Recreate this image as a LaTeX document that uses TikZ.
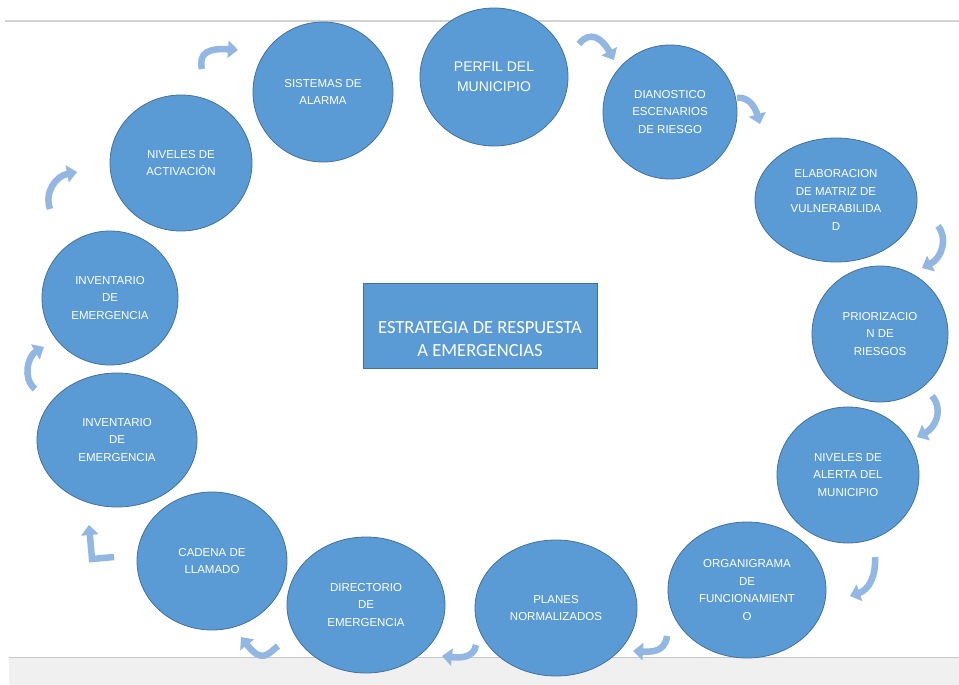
\documentclass[tikz,border=0pt]{standalone}
\usepackage{fontspec}
\setmainfont{Liberation Sans}
\newfontfamily\calib{Carlito}
\usetikzlibrary{shapes.geometric,arrows.meta}
\definecolor{cfill}{HTML}{5B9BD5}
\definecolor{cline}{HTML}{41719C}
\definecolor{arrowc}{HTML}{92B7E2}
\definecolor{barfill}{HTML}{F0F0F0}
\definecolor{barline}{HTML}{C8C8C8}
\tikzset{
  bubble/.style={ellipse, fill=cfill, draw=cline, line width=0.8pt, inner sep=0pt,
     text=white, align=center, font=\fontsize{11.5}{17.5}\selectfont},
  flow/.style={draw=arrowc, line width=6.5pt,
     -{Triangle[width=17pt,length=10pt]}},
  centrebox/.style={rectangle, fill=cfill, draw=cline, line width=0.6pt, inner sep=0pt},
  centretext/.style={text=white, align=center, font=\calib\fontsize{18.5}{23}\selectfont}
}
\begin{document}
\begin{tikzpicture}[x=1pt,y=-1pt]
\useasboundingbox (0,0) rectangle (959,685);
\fill[white] (0,0) rectangle (959,685);
% frame lines
\draw[barline!80, line width=1.6pt] (5,21) -- (959,21);
\fill[barfill] (9,657) rectangle (959,685);
\draw[barline, line width=1pt] (9,657) -- (959,657);

% arrow end points
\coordinate (a1s) at (202,69);  \coordinate (a1e) at (238,50);
\coordinate (a2s) at (579,44);  \coordinate (a2e) at (614,60);
\coordinate (a3s) at (737,98);  \coordinate (a3e) at (760,124);
\coordinate (a4s) at (938,226); \coordinate (a4e) at (922,268);
\coordinate (a5s) at (932,396); \coordinate (a5e) at (917,437);
\coordinate (a6s) at (875,557); \coordinate (a6e) at (850,596);
\coordinate (a7s) at (667,636); \coordinate (a7e) at (633,651);
\coordinate (a8s) at (476,645); \coordinate (a8e) at (442,656);
\coordinate (a9s) at (278,646); \coordinate (a9e) at (241,637);
\coordinate (a10s) at (114,557); \coordinate (a10e) at (89,525);
\coordinate (a11s) at (35,389); \coordinate (a11e) at (44,347);
\coordinate (a12s) at (50,209); \coordinate (a12e) at (77,172);

\draw[flow] (a1s) .. controls (198,52) and (210,48) .. (a1e);
\draw[flow] (a2s) .. controls (590,30) and (602,38) .. (a2e);
\draw[flow] (a3s) .. controls (750,96) and (756,110) .. (a3e);
\draw[flow] (a4s) .. controls (948,238) and (942,258) .. (a4e);
\draw[flow] (a5s) .. controls (944,410) and (935,428) .. (a5e);
\draw[flow] (a6s) .. controls (876,578) and (868,590) .. (a6e);
\draw[flow] (a7s) .. controls (665,652) and (652,652) .. (a7e);
\draw[flow] (a8s) .. controls (474,658) and (460,658) .. (a8e);
\draw[flow] (a9s) .. controls (268,654) and (262,664) .. (a9e);
\draw[flow] (a10s) -- (92,559) -- (a10e);
\draw[flow] (a11s) .. controls (22,378) and (28,356) .. (a11e);
\draw[flow] (a12s) .. controls (44,192) and (56,176) .. (a12e);

% circles
\node[bubble, minimum width=148pt, minimum height=138pt,
      font=\fontsize{14}{20}\selectfont] (perfil) at (494,77) {PERFIL DEL\\MUNICIPIO};
\node[bubble, minimum width=140pt, minimum height=140pt] (alarma) at (323,92) {SISTEMAS DE\\ALARMA};
\node[bubble, minimum width=134pt, minimum height=134pt] (dian) at (670,112) {DIANOSTICO\\ESCENARIOS\\DE RIESGO};
\node[bubble, minimum width=162pt, minimum height=124pt] (elab) at (836,200) {ELABORACION\\DE MATRIZ DE\\VULNERABILIDA\\D};
\node[bubble, minimum width=136pt, minimum height=136pt] (prior) at (880,334) {PRIORIZACIO\\N DE\\RIESGOS};
\node[bubble, minimum width=142pt, minimum height=136pt] (alerta) at (848,475) {NIVELES DE\\ALERTA DEL\\MUNICIPIO};
\node[bubble, minimum width=158pt, minimum height=136pt] (org) at (747,590) {ORGANIGRAMA\\DE\\FUNCIONAMIENT\\O};
\node[bubble, minimum width=162pt, minimum height=136pt] (planes) at (556,608) {PLANES\\NORMALIZADOS};
\node[bubble, minimum width=158pt, minimum height=136pt] (dir) at (366,605) {DIRECTORIO\\DE\\EMERGENCIA};
\node[bubble, minimum width=150pt, minimum height=138pt] (cadena) at (212,561) {CADENA DE\\LLAMADO};
\node[bubble, minimum width=160pt, minimum height=134pt] (invb) at (117,440) {INVENTARIO\\DE\\EMERGENCIA};
\node[bubble, minimum width=136pt, minimum height=134pt] (invt) at (110,298) {INVENTARIO\\DE\\EMERGENCIA};
\node[bubble, minimum width=142pt, minimum height=136pt] (act) at (181,163) {NIVELES DE\\ACTIVACIÓN};

% centre box
\node[centrebox, minimum width=234pt, minimum height=85pt] (centre) at (480,325.5) {};
\node[centretext] (centrelabel) at (480,339) {ESTRATEGIA DE RESPUESTA\\A EMERGENCIAS};
\end{tikzpicture}
\end{document}
